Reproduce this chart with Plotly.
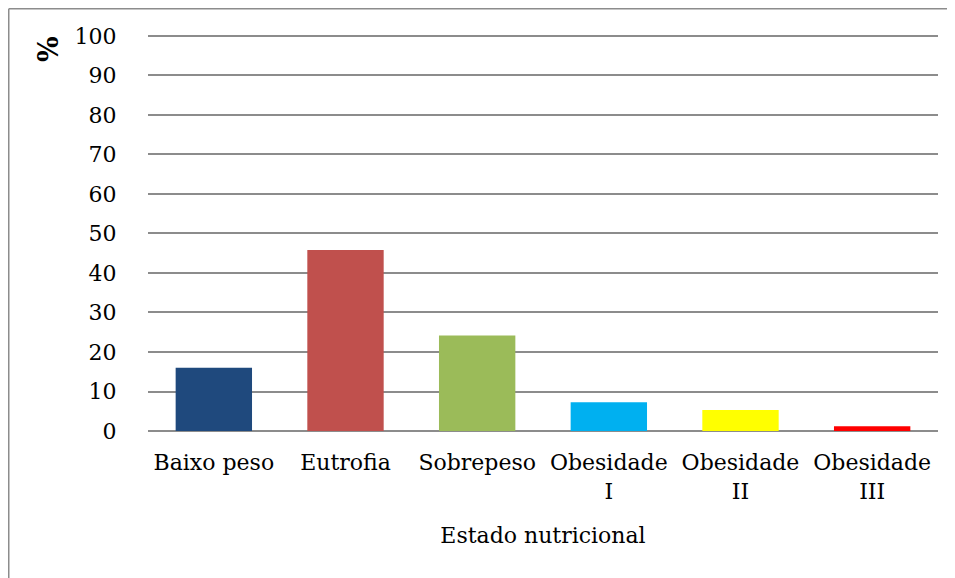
import plotly.graph_objects as go

categories = ["Baixo peso", "Eutrofia", "Sobrepeso", "Obesidade<br>I", "Obesidade<br>II", "Obesidade<br>III"]
values = [16.0, 45.8, 24.2, 7.3, 5.3, 1.2]
colors = ["#1F497D", "#C0504D", "#9BBB59", "#00B0F0", "#FFFF00", "#FF0000"]
y_ticks = [0, 10, 20, 30, 40, 50, 60, 70, 80, 90, 100]

# page offset (body margin) of 8px
OFF = 8
W, H = 955 - OFF, 578 - OFF
ml, mr, mt, mb = 148 - OFF, 955 - 938, 34 - OFF, 578 - 431
pw, ph = W - ml - mr, H - mt - mb

def px_x(x):
    # screen x -> paper
    return (x - OFF - ml) / pw

def px_y(y):
    # screen y -> paper
    return (H - mb - (y - OFF)) / ph

font = "DejaVu Serif"

fig = go.Figure(go.Bar(x=categories, y=values, marker=dict(color=colors, line=dict(width=0)), width=0.58))

fig.update_layout(
    width=W, height=H,
    margin=dict(l=ml, r=mr, t=mt, b=mb),
    plot_bgcolor="white", paper_bgcolor="white",
    showlegend=False,
    font=dict(family=font, size=22, color="black"),
    xaxis=dict(
        showgrid=False, showline=False, zeroline=False,
        tickfont=dict(family=font, size=22, color="black"),
        ticks="outside", ticklen=12, tickcolor="rgba(0,0,0,0)",
        title=dict(text="Estado nutricional", font=dict(family=font, size=22, color="black"), standoff=24),
    ),
    yaxis=dict(
        range=[0, 100.5], tickvals=y_ticks, showgrid=True, gridcolor="#8c8c8c", gridwidth=1.5,
        zeroline=True, zerolinecolor="#8c8c8c", zerolinewidth=1.5, showline=False,
        tickfont=dict(family=font, size=22, color="black"),
        ticks="outside", ticklen=26, tickcolor="rgba(0,0,0,0)",
    ),
    shapes=[
        dict(type="line", xref="paper", yref="paper", x0=px_x(8.75), x1=px_x(8.75), y0=px_y(8.75), y1=px_y(600),
             line=dict(color="#8c8c8c", width=1.5)),
        dict(type="line", xref="paper", yref="paper", x0=px_x(8.75), x1=px_x(1000), y0=px_y(8.75), y1=px_y(8.75),
             line=dict(color="#8c8c8c", width=1.5)),
    ],
    annotations=[
        dict(text="<b>%</b>", xref="paper", yref="paper", x=px_x(49), y=px_y(49), textangle=-90,
             showarrow=False, font=dict(family=font, size=27, color="black"), xanchor="center", yanchor="middle"),
    ],
)

fig.write_html("out.html")
